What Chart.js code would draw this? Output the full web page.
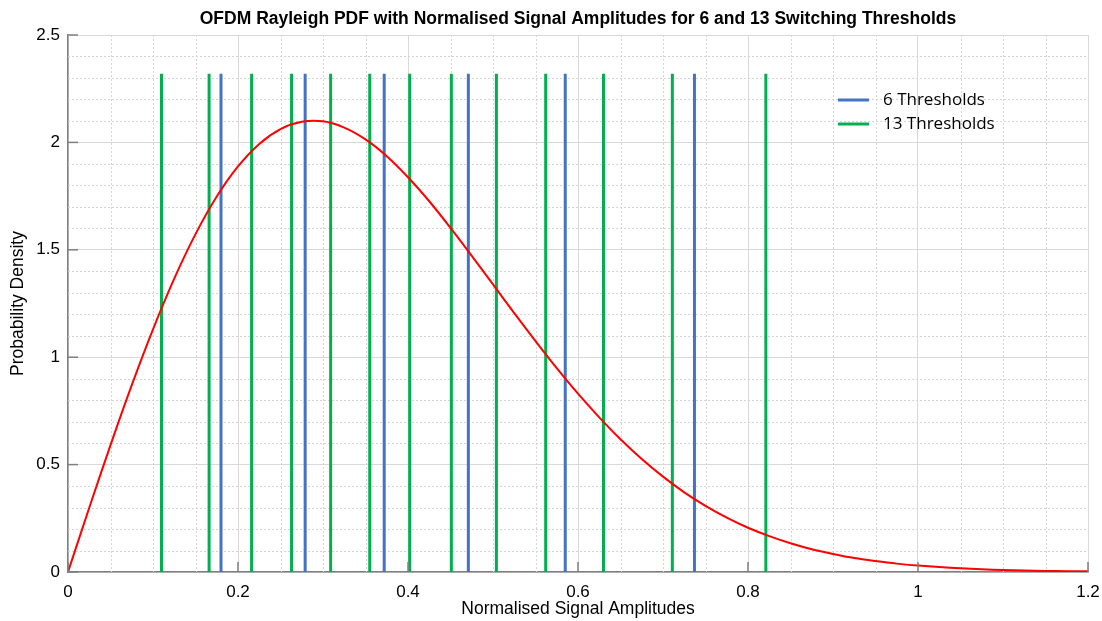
<!DOCTYPE html>
<html>
<head>
<meta charset="utf-8">
<script src="https://cdn.jsdelivr.net/npm/chart.js@4.4.1/dist/chart.umd.min.js"></script>
<style>
  html, body { margin: 0; padding: 0; background: #fff; }
  #wrap { width: 1102px; height: 621px; }
</style>
</head>
<body>
<div id="wrap"><canvas id="pdfChart" width="1102" height="621"></canvas></div>
<script>

// Rayleigh PDF samples (normalised amplitude -> density)
const amplitude = [
    0, 0.025, 0.05, 0.075, 0.1, 0.125, 0.15, 0.175, 0.2, 0.225, 0.25, 0.275,
    0.3, 0.325, 0.35, 0.375, 0.4, 0.425, 0.45, 0.475, 0.5, 0.525, 0.55, 0.575,
    0.6, 0.625, 0.65, 0.675, 0.7, 0.725, 0.75, 0.775, 0.8, 0.825, 0.85, 0.875,
    0.9, 0.925, 0.95, 0.975, 1, 1.025, 1.05, 1.075, 1.1, 1.125, 1.15, 1.175, 1.2
];
const density = [
    0, 0.299, 0.591, 0.870, 1.130, 1.366, 1.573, 1.748, 1.888, 1.993, 2.062, 2.096,
    2.098, 2.069, 2.014, 1.936, 1.838, 1.726, 1.602, 1.472, 1.339, 1.205, 1.075, 0.949,
    0.830, 0.720, 0.618, 0.526, 0.444, 0.371, 0.308, 0.253, 0.206, 0.167, 0.134, 0.106,
    0.084, 0.065, 0.051, 0.039, 0.030, 0.023, 0.017, 0.013, 0.009, 0.007, 0.005, 0.004, 0.003
];

// switching thresholds (normalised amplitude)
const thresholds6 = [0.180, 0.279, 0.372, 0.471, 0.585, 0.737];
const thresholds13 = [0.110, 0.166, 0.216, 0.263, 0.309, 0.355, 0.402, 0.451, 0.504, 0.562, 0.630, 0.711, 0.821];
const markerTop = 2.32;

const titleTxt = 'OFDM Rayleigh PDF with Normalised Signal Amplitudes for 6 and 13 Switching Thresholds';
const xTitle = 'Normalised Signal Amplitudes';
const yTitle = 'Probability Density';

const axisGray = '#7f7f7f';
const gridGray = '#d9d9d9';
const blue = '#4472c4';
const green = '#00b050';

// each threshold becomes its own vertical segment, split by a null gap
function verticalSegments(values) {
    var pts = [];
    values.forEach(function (v) {
        pts.push({x: v, y: 0}, {x: v, y: markerTop}, {x: v, y: null});
    });
    return pts;
}

// tick text without trailing zeros (2 rather than 2.0)
function shortNum(value) {
    return String(parseFloat(value.toFixed(2)));
}

var curve = amplitude.map(function (a, i) { return {x: a, y: density[i]}; });

/***************************************************/
/********** EXTRA DRAWING (grid, ticks, legend) ****/
/***************************************************/
var plotExtras = {
    id: 'plotExtras',
    beforeDatasetsDraw: function (chart) {
        var ctx = chart.ctx;
        var area = chart.chartArea;
        var xs = chart.scales.x;
        var ys = chart.scales.y;

        // dotted minor grid
        ctx.save();
        ctx.strokeStyle = '#d4d4d4';
        ctx.lineWidth = 1;
        ctx.setLineDash([2, 2]);
        for (var i = 1; i < 24; i++) {
            if (i % 4 === 0) continue;
            var px = Math.round(xs.getPixelForValue(i * 0.05)) + 0.5;
            ctx.beginPath();
            ctx.moveTo(px, area.top);
            ctx.lineTo(px, area.bottom);
            ctx.stroke();
        }
        for (var j = 1; j < 25; j++) {
            if (j % 5 === 0) continue;
            var py = Math.round(ys.getPixelForValue(j * 0.1)) + 0.5;
            ctx.beginPath();
            ctx.moveTo(area.left, py);
            ctx.lineTo(area.right, py);
            ctx.stroke();
        }
        ctx.restore();
    },
    afterDatasetsDraw: function (chart) {
        var ctx = chart.ctx;
        var area = chart.chartArea;
        var xs = chart.scales.x;
        var ys = chart.scales.y;

        // inward major tick marks
        ctx.save();
        ctx.strokeStyle = axisGray;
        ctx.lineWidth = 1.5;
        xs.ticks.forEach(function (t) {
            var px = xs.getPixelForValue(t.value);
            ctx.beginPath();
            ctx.moveTo(px, area.bottom);
            ctx.lineTo(px, area.bottom - 10);
            ctx.stroke();
        });
        ys.ticks.forEach(function (t) {
            var py = ys.getPixelForValue(t.value);
            ctx.beginPath();
            ctx.moveTo(area.left, py);
            ctx.lineTo(area.left + 10, py);
            ctx.stroke();
        });
        ctx.restore();

        // legend inside the plot
        var items = [
            {label: '6 Thresholds', color: blue},
            {label: '13 Thresholds', color: green}
        ];
        ctx.save();
        ctx.font = '17px "Open Sans", Carlito, sans-serif';
        ctx.textBaseline = 'middle';
        ctx.fillStyle = '#000';
        items.forEach(function (it, k) {
            var y = 100 + k * 24;
            ctx.strokeStyle = it.color;
            ctx.lineWidth = 3;
            ctx.beginPath();
            ctx.moveTo(838, y);
            ctx.lineTo(869, y);
            ctx.stroke();
            ctx.fillText(it.label, 883, y);
        });
        ctx.restore();
    },
    afterDraw: function (chart) {
        var ctx = chart.ctx;
        var area = chart.chartArea;
        ctx.save();
        ctx.font = 'bold 17.5px "Liberation Sans", Arial, sans-serif';
        ctx.fillStyle = '#000';
        ctx.textAlign = 'center';
        ctx.textBaseline = 'middle';
        ctx.fillText(titleTxt, (area.left + area.right) / 2, 19);
        ctx.restore();
    }
};

/***************************************************/
/******************* BUILD CHART *******************/
/***************************************************/
var tickFont = {family: '"Liberation Sans", Arial, sans-serif', size: 17};
var titleFont = {family: '"Liberation Sans", Arial, sans-serif', size: 17.5};

var data = {
    datasets: [
        {
            label: 'Rayleigh PDF',
            data: curve,
            borderColor: '#ff0000',
            borderWidth: 2,
            pointRadius: 0,
            tension: 0.3,
            order: 0
        },
        {
            label: '6 Thresholds',
            data: verticalSegments(thresholds6),
            borderColor: blue,
            borderWidth: 3,
            pointRadius: 0,
            spanGaps: false,
            order: 1
        },
        {
            label: '13 Thresholds',
            data: verticalSegments(thresholds13),
            borderColor: green,
            borderWidth: 3,
            pointRadius: 0,
            spanGaps: false,
            order: 2
        }
    ]
};

var options = {
    responsive: false,
    devicePixelRatio: 1,
    animation: false,
    layout: {padding: {top: 35, right: 14, left: 0, bottom: 0}},
    plugins: {
        legend: {display: false},
        title: {display: false},
        tooltip: {enabled: false}
    },
    scales: {
        x: {
            type: 'linear',
            min: 0,
            max: 1.2,
            ticks: {stepSize: 0.2, color: '#000', font: tickFont, padding: 10, maxRotation: 0,
                    callback: function (v) { return shortNum(v); }},
            grid: {color: gridGray, drawTicks: false},
            border: {color: axisGray, width: 1.5},
            title: {display: true, text: xTitle, color: '#000', font: titleFont, padding: {top: 0, bottom: 1}},
            afterFit: function (scale) {
                scale.height = 49;
                scale.paddingLeft = 0;
                scale.paddingRight = 0;
            }
        },
        y: {
            type: 'linear',
            min: 0,
            max: 2.5,
            ticks: {stepSize: 0.5, color: '#000', font: tickFont, padding: 8,
                    callback: function (v) { return shortNum(v); }},
            grid: {color: gridGray, drawTicks: false},
            border: {color: axisGray, width: 1.5},
            title: {display: true, text: yTitle, color: '#000', font: titleFont, padding: {top: 8, bottom: 0}},
            afterFit: function (scale) {
                scale.width = 68;
                scale.paddingTop = 0;
                scale.paddingBottom = 0;
            }
        }
    }
};

var canvas = document.getElementById('pdfChart').getContext('2d');
var pdfChart = new Chart(canvas, {
    type: 'line',
    data: data,
    options: options,
    plugins: [plotExtras]
});

</script>
</body>
</html>
